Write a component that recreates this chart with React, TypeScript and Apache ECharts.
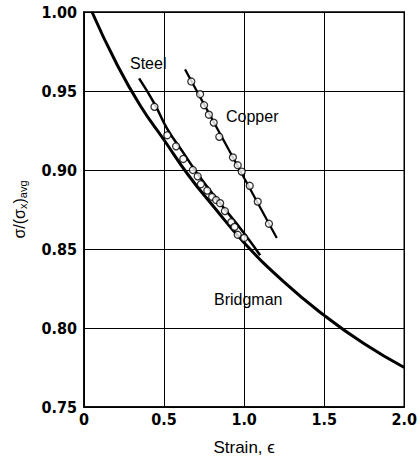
import React, { useEffect, useRef } from "react";
import * as echarts from "echarts";

const xTicks = [0, 0.5, 1.0, 1.5, 2.0];
const yTicks = [0.75, 0.8, 0.85, 0.9, 0.95, 1.0];

const bridgmanX = [0.05, 0.2, 0.35, 0.5, 0.65, 0.8, 1.0, 1.25, 1.5, 1.75, 2.0];
const bridgmanY = [1.0, 0.968, 0.941, 0.919, 0.897, 0.878, 0.854, 0.829, 0.808, 0.79, 0.775];

const steelLineX = [0.344, 0.44, 0.52, 0.62, 0.72, 0.85, 1.0, 1.1];
const steelLineY = [0.958, 0.942, 0.926, 0.911, 0.896, 0.879, 0.86, 0.846];
const steelX = [0.44, 0.52, 0.575, 0.62, 0.68, 0.71, 0.73, 0.77, 0.8, 0.825, 0.85, 0.88, 0.92, 0.94, 0.96, 1.0];
const steelY = [0.94, 0.922, 0.915, 0.907, 0.9, 0.896, 0.891, 0.887, 0.883, 0.881, 0.879, 0.874, 0.867, 0.864, 0.859, 0.857];

const copperLineX = [0.631, 1.204];
const copperLineY = [0.9637, 0.857];
const copperX = [0.67, 0.725, 0.75, 0.78, 0.81, 0.845, 0.93, 0.96, 0.985, 1.035, 1.085, 1.155];
const copperY = [0.956, 0.948, 0.941, 0.935, 0.93, 0.921, 0.908, 0.903, 0.899, 0.89, 0.88, 0.866];

const zip = (xs: number[], ys: number[]) => xs.map((x, i) => [x, ys[i]]);

const labelFont = "'Liberation Sans Narrow', 'DejaVu Sans Condensed', 'Liberation Sans', Arial, sans-serif";
const textFont = "'Liberation Sans', Arial, Helvetica, sans-serif";

export default function App() {
  const ref = useRef<HTMLDivElement>(null);
  useEffect(() => {
    document.body.style.margin = "0";
    if (!ref.current) return;
    const chart = echarts.init(ref.current, undefined, { renderer: "svg" });
    chart.setOption({
      animation: false,
      backgroundColor: "#ffffff",
      grid: {
        left: 84,
        right: 15,
        top: 12,
        bottom: 56,
        show: true,
        borderColor: "#000",
        borderWidth: 1.5,
        backgroundColor: "transparent",
      },
      xAxis: {
        type: "value",
        min: xTicks[0],
        max: xTicks[xTicks.length - 1],
        interval: 0.5,
        name: "Strain, ϵ",
        nameLocation: "middle",
        nameGap: 32,
        nameTextStyle: { color: "#000", fontSize: 17, fontFamily: textFont },
        axisLine: { show: true, lineStyle: { color: "#000", width: 1.5 } },
        axisTick: { show: false },
        splitLine: { show: true, lineStyle: { color: "#000", width: 1 } },
        axisLabel: {
          color: "#000",
          fontSize: 16,
          fontWeight: "bold",
          fontFamily: labelFont,
          margin: 4,
          formatter: (v: number) => (v === 0 ? "0" : v.toFixed(1)),
        },
      },
      yAxis: {
        type: "value",
        min: yTicks[0],
        max: yTicks[yTicks.length - 1],
        interval: 0.05,
        name: "σ/(σ{sub|x}){sub|avg}",
        nameLocation: "middle",
        nameGap: 56,
        nameRotate: 90,
        nameTextStyle: {
          color: "#000",
          fontSize: 16,
          fontFamily: textFont,
          rich: {
            sub: { fontSize: 11, fontFamily: textFont, color: "#000", verticalAlign: "bottom", padding: [7, 0, 0, 0] },
          },
        },
        axisLine: { show: true, lineStyle: { color: "#000", width: 1.5 } },
        axisTick: { show: false },
        splitLine: { show: true, lineStyle: { color: "#000", width: 1 } },
        axisLabel: {
          color: "#000",
          fontSize: 16,
          fontWeight: "bold",
          fontFamily: labelFont,
          margin: 7,
          formatter: (v: number) => v.toFixed(2),
        },
      },
      series: [
        {
          name: "Bridgman",
          type: "line",
          data: zip(bridgmanX, bridgmanY),
          smooth: 0.5,
          showSymbol: false,
          lineStyle: { color: "#000", width: 3 },
          z: 3,
        },
        {
          name: "Steel line",
          type: "line",
          data: zip(steelLineX, steelLineY),
          smooth: 0.5,
          showSymbol: false,
          lineStyle: { color: "#000", width: 2.5 },
          z: 3,
        },
        {
          name: "Copper line",
          type: "line",
          data: zip(copperLineX, copperLineY),
          showSymbol: false,
          lineStyle: { color: "#000", width: 2.2 },
          z: 3,
        },
        {
          name: "Steel",
          type: "scatter",
          data: zip(steelX, steelY),
          symbol: "circle",
          symbolSize: 7,
          itemStyle: { color: "#fff", borderColor: "#000", borderWidth: 1.3 },
          z: 5,
        },
        {
          name: "Copper",
          type: "scatter",
          data: zip(copperX, copperY),
          symbol: "circle",
          symbolSize: 7,
          itemStyle: { color: "#fff", borderColor: "#000", borderWidth: 1.3 },
          z: 5,
        },
      ],
      graphic: [
        { type: "text", left: 130, top: 55, style: { text: "Steel", fill: "#000", font: `16px ${textFont}` } },
        { type: "text", left: 226, top: 108, style: { text: "Copper", fill: "#000", font: `16px ${textFont}` } },
        { type: "text", left: 214, top: 291, style: { text: "Bridgman", fill: "#000", font: `16px ${textFont}` } },
      ],
    });
    return () => chart.dispose();
  }, []);
  return <div ref={ref} style={{ width: 420, height: 463 }} />;
}
